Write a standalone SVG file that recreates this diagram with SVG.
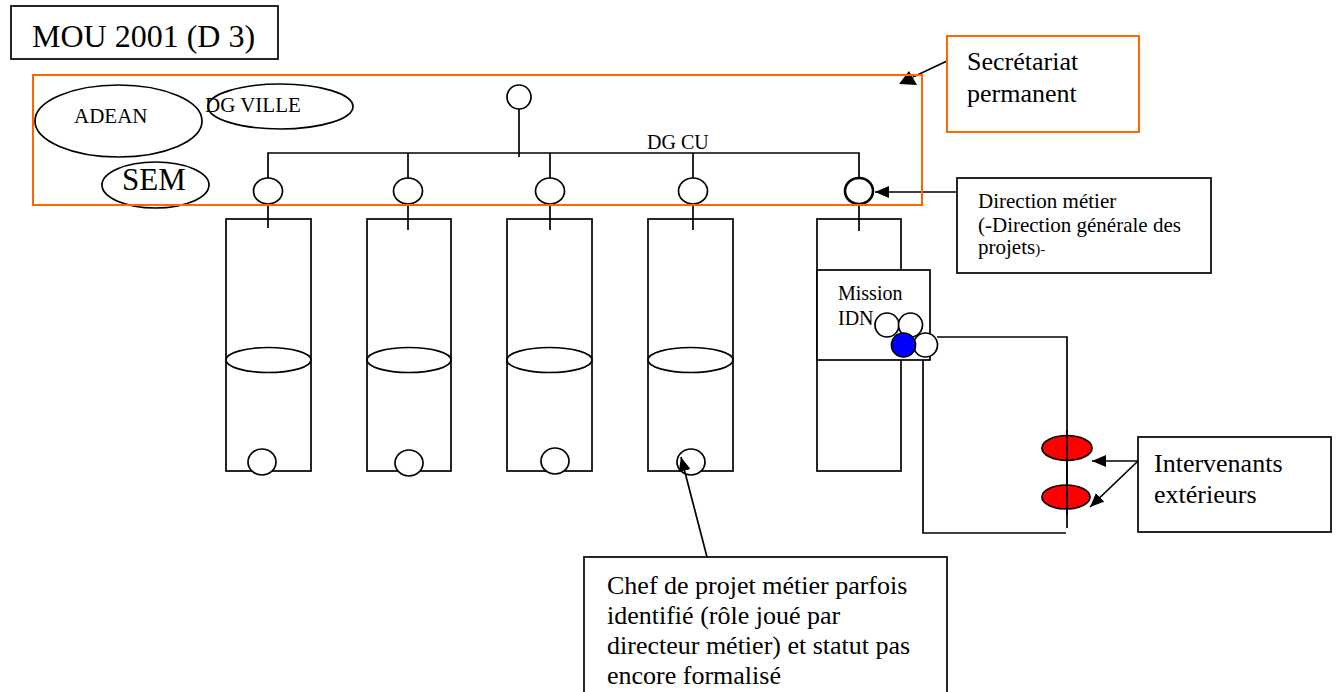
<svg xmlns="http://www.w3.org/2000/svg" width="1339" height="692" viewBox="0 0 1339 692">
<style>
.ln{stroke:#000;stroke-width:1.7;fill:none}
.sh{stroke:#000;stroke-width:1.7;fill:#fff}
.or{stroke:#FF6600;stroke-width:2;fill:none}
.orf{stroke:#FF6600;stroke-width:2;fill:#fff}
.t{font-family:"Liberation Serif","Times New Roman",serif;fill:#000}
</style>
<defs>
<marker id="ah" markerUnits="userSpaceOnUse" markerWidth="14" markerHeight="12" refX="14" refY="6" orient="auto">
<path d="M0,0 L14,6 L0,12 z" fill="#000"/>
</marker>
</defs>
<rect width="1339" height="692" fill="#fff"/>

<g id="title">
<rect x="11" y="6" width="267" height="53" class="sh"/>
<text x="32" y="47" class="t" font-size="32">MOU 2001 (D 3)</text>
</g>

<g id="col1">
<rect x="226" y="219" width="85" height="252" class="sh"/>
<ellipse cx="268.5" cy="360" rx="42.5" ry="12.5" class="ln"/>
<ellipse cx="262" cy="462" rx="14" ry="13" class="sh"/>
</g>
<g id="col2">
<rect x="367" y="219" width="84" height="252" class="sh"/>
<ellipse cx="409" cy="360" rx="42" ry="12.5" class="ln"/>
<ellipse cx="409" cy="463" rx="14" ry="13" class="sh"/>
</g>
<g id="col3">
<rect x="507" y="219" width="85" height="252" class="sh"/>
<ellipse cx="549.5" cy="360" rx="42.5" ry="12.5" class="ln"/>
<ellipse cx="555" cy="461" rx="14" ry="13" class="sh"/>
</g>
<g id="col4">
<rect x="648" y="219" width="85" height="252" class="sh"/>
<ellipse cx="690.5" cy="360" rx="42.5" ry="12.5" class="ln"/>
<ellipse cx="691" cy="462" rx="14" ry="13" class="sh"/>
</g>
<g id="col5">
<rect x="817" y="219" width="84" height="252" class="sh"/>
</g>

<g id="ext-loop">
<path d="M937,337 L1067,337 L1067,528" class="ln"/>
<path d="M923,360 L923,533 L1066,533" class="ln"/>
</g>

<g id="mission-idn">
<rect x="817" y="270" width="113" height="90" class="sh"/>
<text x="838" y="300" class="t" font-size="20">Mission</text>
<text x="838" y="325" class="t" font-size="20">IDN</text>
<circle cx="887" cy="325" r="12" class="sh"/>
<circle cx="910.5" cy="325" r="12" class="sh"/>
<circle cx="925.5" cy="345" r="12" class="sh"/>
<circle cx="903.5" cy="345" r="12" fill="#0000FF" stroke="#000" stroke-width="1.7"/>
</g>

<g id="intervenants-nodes">
<ellipse cx="1067" cy="448" rx="25" ry="12.5" fill="#FF0000" stroke="#000" stroke-width="1.7"/>
<ellipse cx="1066" cy="497" rx="24" ry="12" fill="#FF0000" stroke="#000" stroke-width="1.7"/>
<line x1="1067" y1="430" x2="1067" y2="515" class="ln"/>
</g>

<g id="adean">
<ellipse cx="118.5" cy="121" rx="83.5" ry="36" class="ln"/>
<text x="74" y="123" class="t" font-size="21">ADEAN</text>
</g>
<g id="dg-ville">
<ellipse cx="280.5" cy="106.5" rx="72.5" ry="22.5" class="ln"/>
<text x="205" y="112" class="t" font-size="21">DG VILLE</text>
</g>
<g id="sem">
<ellipse cx="155.5" cy="185" rx="53.5" ry="23" class="sh"/>
<text x="122" y="190" class="t" font-size="31">SEM</text>
</g>

<g id="dg-cu">
<circle cx="519" cy="97" r="12" class="sh"/>
<text x="647" y="149" class="t" font-size="20">DG CU</text>
</g>

<g id="connectors">
<line x1="519" y1="109" x2="519" y2="157" class="ln"/>
<path d="M268,178 L268,153 L859,153 L859,178" class="ln"/>
<line x1="408" y1="153" x2="408" y2="178" class="ln"/>
<line x1="550" y1="153" x2="550" y2="178" class="ln"/>
<line x1="693" y1="153" x2="693" y2="178" class="ln"/>
<line x1="268" y1="204" x2="268" y2="228" class="ln"/>
<line x1="408" y1="204" x2="408" y2="230" class="ln"/>
<line x1="550" y1="204" x2="550" y2="230" class="ln"/>
<line x1="693" y1="204" x2="693" y2="230" class="ln"/>
<line x1="859" y1="204" x2="859" y2="231" class="ln"/>
<line x1="957" y1="192" x2="875" y2="192" class="ln" marker-end="url(#ah)"/>
<line x1="1138" y1="461" x2="1092" y2="461" class="ln" marker-end="url(#ah)"/>
<line x1="1138" y1="461" x2="1090" y2="507" class="ln" marker-end="url(#ah)"/>
<line x1="707" y1="557" x2="681" y2="457" class="ln" marker-end="url(#ah)"/>
<line x1="947" y1="61" x2="913" y2="77" class="ln"/>
<polygon points="909,71 899,84 917,85" fill="#000"/>
</g>

<g id="directions">
<ellipse cx="268" cy="191" rx="14.5" ry="13" class="sh"/>
<ellipse cx="408" cy="191" rx="14.5" ry="13" class="sh"/>
<ellipse cx="550" cy="191" rx="14.5" ry="13" class="sh"/>
<ellipse cx="693" cy="191" rx="14.5" ry="13" class="sh"/>
<ellipse cx="859" cy="191" rx="14" ry="13" fill="#fff" stroke="#000" stroke-width="2.6"/>
</g>

<g id="mou-frame">
<rect x="33" y="75" width="889" height="130" class="or"/>
</g>

<g id="secretariat">
<rect x="947" y="36" width="192" height="96" class="orf"/>
<text x="967" y="70" class="t" font-size="26">Secrétariat</text>
<text x="967" y="102" class="t" font-size="26">permanent</text>
</g>

<g id="direction-metier">
<rect x="957" y="178" width="254" height="95" class="sh"/>
<text x="978" y="208" class="t" font-size="21">Direction métier</text>
<text x="978" y="232" class="t" font-size="21">(-Direction générale des</text>
<text x="978" y="254" class="t" font-size="21">projets<tspan font-size="15">)-</tspan></text>
</g>

<g id="intervenants">
<rect x="1138" y="437" width="193" height="95" class="sh"/>
<text x="1154" y="472" class="t" font-size="26">Intervenants</text>
<text x="1154" y="503" class="t" font-size="26">extérieurs</text>
</g>

<g id="chef-projet">
<rect x="584" y="557" width="363" height="145" class="sh"/>
<text x="607" y="594" class="t" font-size="26">Chef de projet métier parfois</text>
<text x="607" y="624" class="t" font-size="26">identifié (rôle joué par</text>
<text x="607" y="654" class="t" font-size="26">directeur métier) et statut pas</text>
<text x="607" y="684" class="t" font-size="26">encore formalisé</text>
</g>
</svg>
